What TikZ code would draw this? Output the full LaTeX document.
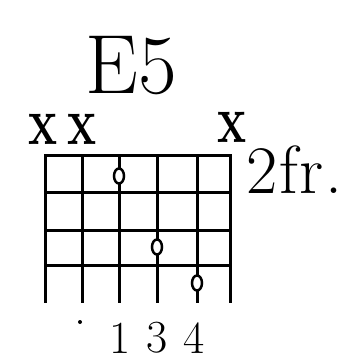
\documentclass[tikz,border=0pt]{standalone}
\usetikzlibrary{shapes.geometric}
\begin{document}
\begin{tikzpicture}[
  x=1pt,y=-1pt,
  fretline/.style={line width=3pt,line cap=rect},
  stringline/.style={line width=3pt},
  fingerdot/.style={ellipse,draw,fill=white,line width=2.5pt,minimum width=10pt,minimum height=15pt,inner sep=0pt},
  mute/.style={font=\fontsize{68}{68}\selectfont\bfseries,inner sep=0pt},
  finger/.style={font=\fontsize{46}{46}\selectfont,inner sep=0pt}
]
\useasboundingbox (0,0) rectangle (358,361);

% Chord name
\node (title) at (131,66) {\fontsize{84}{84}\selectfont E5};

% Muted strings
\node[mute] (muteA) at (43,129) {\scalebox{0.72}[1]{x}};
\node[mute] (muteB) at (82,129) {\scalebox{0.72}[1]{x}};
\node[mute] (muteF) at (232,127) {\scalebox{0.72}[1]{x}};

% Position
\node[anchor=west] (pos) at (243,170) {\fontsize{68}{68}\selectfont 2\kern2pt f\kern1pt r\kern2pt .};

% Frets
\foreach \y in {155,192,230,265}
  \draw[fretline] (45,\y) -- (230,\y);

% Strings
\foreach \x in {45,82,119,157,197,230}
  \draw[stringline] (\x,155) -- (\x,303);

% Fingered notes
\node[fingerdot] (dotA) at (119,176) {};
\node[fingerdot] (dotB) at (157,247) {};
\node[fingerdot] (dotC) at (197,283) {};

% Fingering
\node[finger] (fingA) at (120,338) {1};
\node[finger] (fingB) at (157,338) {3};
\node[finger] (fingC) at (194,338) {4};
\fill (80,322) circle (2pt);

\end{tikzpicture}
\end{document}
